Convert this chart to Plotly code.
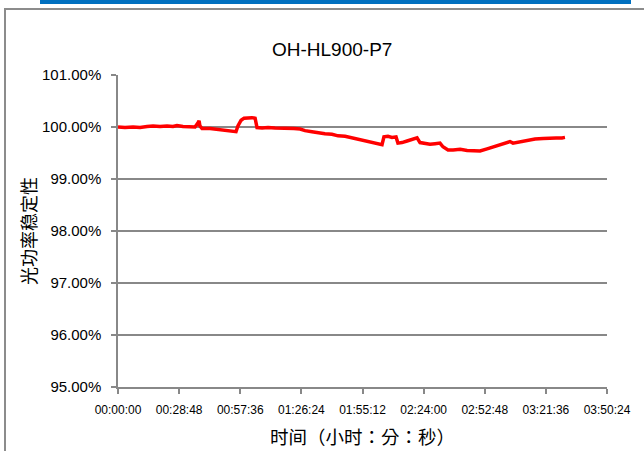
import plotly.graph_objects as go

# elapsed time (minutes) and power stability (%)
time_min = [0, 3.3, 7.1, 10.4, 13.7, 16.5, 19.8, 23.1, 25.9, 27.8, 30.6, 33.9, 36.3, 37.7, 38.2,
            38.6, 39.6, 43.4, 47.1, 50.4, 53.7, 55.6, 56.5, 58.0, 59.4, 61.3, 63.1, 64.6, 65.0,
            65.5, 67.9, 70.7, 74.0, 76.3, 79.6, 82.9, 85.8, 88.1, 91.4, 94.2, 97.5, 100.8, 103.7,
            107.0, 109.3, 112.1, 115.0, 117.8, 120.6, 123.0, 124.4, 125.3, 127.2, 129.1, 131.0,
            131.9, 133.8, 136.2, 138.5, 140.0, 140.9, 142.3, 144.7, 147.0, 149.4, 151.7, 153.1,
            155.5, 157.9, 161.2, 164.5, 167.8, 170.6, 173.9, 177.2, 180.0, 183.3, 184.7, 186.1,
            189.4, 192.7, 196.5, 200.3, 203.6, 206.4, 209.2, 210.6]
stability = [100.00, 99.99, 100.00, 99.99, 100.01, 100.02, 100.01, 100.02, 100.01, 100.03, 100.01,
             100.01, 100.00, 100.08, 100.12, 100.02, 99.97, 99.97, 99.95, 99.94, 99.93, 99.91,
             100.02, 100.13, 100.17, 100.18, 100.18, 100.17, 100.06, 99.99, 99.98, 99.99, 99.98,
             99.98, 99.97, 99.97, 99.96, 99.93, 99.91, 99.89, 99.87, 99.86, 99.83, 99.82, 99.80,
             99.77, 99.74, 99.72, 99.70, 99.68, 99.66, 99.81, 99.82, 99.80, 99.81, 99.69, 99.70,
             99.73, 99.76, 99.78, 99.79, 99.70, 99.68, 99.67, 99.68, 99.69, 99.62, 99.56, 99.56,
             99.57, 99.55, 99.55, 99.54, 99.58, 99.62, 99.65, 99.69, 99.72, 99.69, 99.72, 99.75,
             99.77, 99.78, 99.79, 99.79, 99.79, 99.80]

x_tick_vals = [0, 28.8, 57.6, 86.4, 115.2, 144.0, 172.8, 201.6, 230.4]
x_tick_text = ["00:00:00", "00:28:48", "00:57:36", "01:26:24", "01:55:12",
               "02:24:00", "02:52:48", "03:21:36", "03:50:24"]
y_tick_vals = [95, 96, 97, 98, 99, 100, 101]
y_tick_text = ["95.00%", "96.00%", "97.00%", "98.00%", "99.00%", "100.00%", "101.00%"]

title_text = "OH-HL900-P7"
x_title = "时间（小时：分：秒）"
y_title = "光功率稳定性"

FONT = "Liberation Sans, Arial, Noto Sans CJK SC, sans-serif"
CJK_FONT = "Noto Sans CJK TC, Noto Sans CJK SC, sans-serif"
GRID = "#888888"

W, H = 644, 451
L, R, T, B = 118, 607, 75, 387
pw, ph = R - L, B - T


def px(x):
    return (x - L) / pw


def py(y):
    return (B - y) / ph


fig = go.Figure()
fig.add_trace(go.Scatter(x=time_min, y=stability, mode="lines",
                         line=dict(color="#FF0000", width=3.5), showlegend=False))

fig.update_layout(
    width=W, height=H,
    margin=dict(l=L, r=W - R, t=T, b=H - B, pad=0, autoexpand=False),
    paper_bgcolor="white", plot_bgcolor="white",
    font=dict(family=FONT, color="black"),
    showlegend=False,
    xaxis=dict(range=[0, 230.4], tickvals=x_tick_vals, ticktext=x_tick_text,
               tickfont=dict(size=12), showgrid=False, zeroline=False,
               showline=True, linecolor=GRID, linewidth=1.5,
               ticks="outside", ticklen=5, tickcolor=GRID, tickwidth=1.5,
               ticklabelstandoff=6, automargin=False,
               title=dict(text=x_title, font=dict(size=18.5, family=CJK_FONT), standoff=15)),
    yaxis=dict(range=[95, 101], tickvals=y_tick_vals, ticktext=y_tick_text,
               tickfont=dict(size=15), showgrid=True, gridcolor=GRID, gridwidth=1.5,
               zeroline=False, showline=True, linecolor=GRID, linewidth=1.5,
               ticks="outside", ticklen=5, tickcolor=GRID, tickwidth=1.5,
               ticklabelstandoff=7, automargin=False,
               title=dict(text=y_title, font=dict(size=18, family=CJK_FONT), standoff=1)),
    annotations=[dict(text=title_text, xref="paper", yref="paper",
                      x=px(332), y=py(49), xanchor="center", yanchor="middle",
                      showarrow=False, font=dict(size=19, family=FONT))],
    shapes=[
        dict(type="rect", xref="paper", yref="paper", x0=px(5), x1=px(660),
             y0=py(470), y1=py(9), line=dict(color="#8C8C8C", width=2), layer="below"),
        dict(type="rect", xref="paper", yref="paper", x0=px(40), x1=px(631),
             y0=py(4), y1=py(-2), line=dict(width=0), fillcolor="#0070C0"),
    ],
)

fig.write_html("out.html", config={"displayModeBar": False},
               post_script="document.body.style.margin='0';")
